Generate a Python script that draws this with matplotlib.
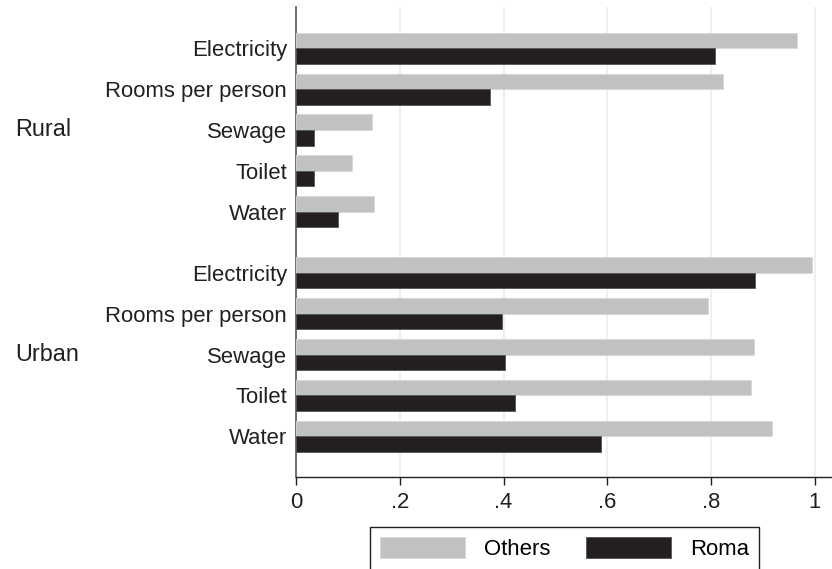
import numpy as np
import matplotlib
matplotlib.use("Agg")
import matplotlib.pyplot as plt
from matplotlib.transforms import blended_transform_factory

# housing indicators
items = ["Electricity", "Rooms per person", "Sewage", "Toilet", "Water"]
groups = ["Rural", "Urban"]

rural_others = [0.966, 0.823, 0.147, 0.107, 0.150]
rural_roma = [0.808, 0.374, 0.034, 0.034, 0.080]
urban_others = [0.995, 0.793, 0.883, 0.876, 0.917]
urban_roma = [0.885, 0.397, 0.403, 0.422, 0.587]

x_ticks = [0, 0.2, 0.4, 0.6, 0.8, 1.0]
x_tick_labels = ["0", ".2", ".4", ".6", ".8", "1"]

GREY = "#c0c1c3"
DARK = "#231f20"


def plot_housing() -> None:
    plt.rcParams['font.family'] = ['Liberation Sans', 'DejaVu Sans']
    fig = plt.figure(figsize=(8.32, 5.69), dpi=100)
    ax = fig.add_axes([296 / 832, 1 - 477 / 569, 1 - 296 / 832, (477 - 6.7) / 569])

    n = len(items)
    group_gap = 1.5
    pos_rural = np.arange(n)
    pos_urban = np.arange(n) + (n - 1) + group_gap
    h = 0.38

    others = rural_others + urban_others
    roma = rural_roma + urban_roma
    pos = np.concatenate([pos_rural, pos_urban])

    ax.barh(pos - h / 2, others, height=h, color=GREY, edgecolor="#d8d8d8", linewidth=0.6,
            label="Others", zorder=3)
    ax.barh(pos + h / 2, roma, height=h, color=DARK, edgecolor="#555555", linewidth=0.6,
            label="Roma", zorder=3)

    ax.set_ylim(pos_urban[-1] + 1.0, -1.02)
    ax.set_xlim(0, (832 - 296) / 519)
    ax.set_yticks(pos)
    ax.set_yticklabels(items + items)
    ax.set_xticks(x_ticks)
    ax.set_xticklabels(x_tick_labels)
    ax.tick_params(axis='y', length=0, pad=6.5, labelsize=15.9, labelcolor="#231f20")
    ax.tick_params(axis='x', length=5.5, width=1.0, pad=5, labelsize=15.9, labelcolor="#231f20",
                   color="#231f20")

    for s in ["top", "right"]:
        ax.spines[s].set_visible(False)
    ax.spines["left"].set_color("#555555")
    ax.spines["left"].set_linewidth(1.2)
    ax.spines["bottom"].set_color("#231f20")
    ax.spines["bottom"].set_linewidth(1.0)

    for t in x_ticks[1:]:
        ax.axvline(t, color="#eeeeee", linewidth=1.3, zorder=1)

    trans = blended_transform_factory(fig.transFigure, ax.transData)
    for g, p in zip(groups, [pos_rural[2], pos_urban[2]]):
        ax.text(15 / 832, p, g, transform=trans, ha='left', va='center', fontsize=16.8,
                color="#231f20")

    fig.legend(loc='upper left', bbox_to_anchor=(370 / 832, 1 - 527.3 / 569), ncol=2,
               fontsize=15.9, frameon=True, fancybox=False, edgecolor="#231f20",
               framealpha=1, borderpad=0.45, borderaxespad=0, handlelength=3.85,
               handleheight=1.05, handletextpad=0.86, columnspacing=1.62)
    fig.legends[0].get_frame().set_linewidth(1.0)

    plt.savefig("out.png", dpi=100)


def main():
    plot_housing()


if __name__ == '__main__':
    main()
